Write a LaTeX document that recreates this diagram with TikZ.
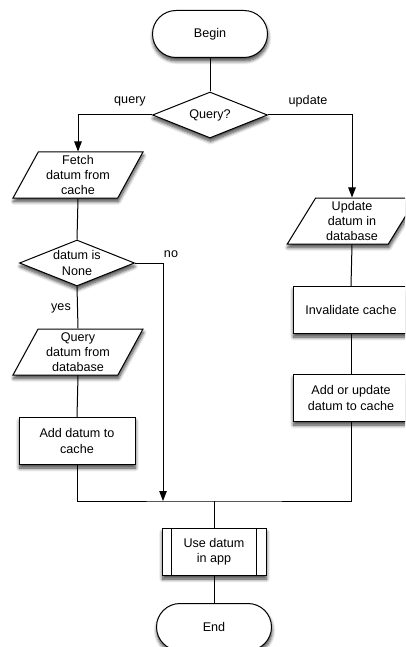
\documentclass[tikz,border=0pt]{standalone}
\usepackage{fontspec}
\setmainfont{Liberation Sans}
\usetikzlibrary{shapes.geometric,shapes.misc,arrows.meta,shadows.blur}
\begin{document}
\begin{tikzpicture}[x=1pt,y=-1pt,
  every node/.style={font=\fontsize{12.6}{15.2}\selectfont, align=center},
  shade/.style={blur shadow={shadow xshift=0.5pt, shadow yshift=-3.5pt, shadow blur steps=8, shadow blur radius=3.5pt, shadow opacity=75}},
  base/.style={draw, line width=1pt, fill=white, inner sep=0pt, shade},
  terminal/.style={base, rounded rectangle, minimum width=115pt, minimum height=47pt},
  decision/.style={base, diamond, aspect=2.5, inner sep=0pt, minimum width=115pt, minimum height=46pt},
  io/.style={base, trapezium, trapezium left angle=63, trapezium right angle=117,
    trapezium stretches=true, minimum width=130pt, minimum height=46pt},
  process/.style={base, rectangle, minimum width=116pt, minimum height=47pt},
  predef/.style={base, rectangle, minimum width=104pt, minimum height=47pt},
  link/.style={line width=1pt},
  arrow/.style={link, -{Triangle[length=10pt,width=7.5pt]}},
  tag/.style={font=\fontsize{12.6}{14}\selectfont}
]
\useasboundingbox (0,0) rectangle (405,647);
\begin{scope}
\clip (0,0) rectangle (405,647);

% shapes
\node[terminal] (begin) at (210,34) {Begin};
\node[decision] (q) at (210,115) {Query?};
\node[io] (fetch) at (78,175) {Fetch\\datum from\\cache};
\node[decision] (none) at (77,263) {datum is\\None};
\node[io] (qdb) at (78,352) {Query\\datum from\\database};
\node[process] (add) at (77,441) {Add datum to\\cache};
\node[io] (upd) at (352,221) {Update\\datum in\\database};
\node[process] (inv) at (351,310) {Invalidate cache};
\node[process] (aou) at (351,398) {Add or update\\datum to cache};
\node[predef] (use) at (214,552) {Use datum\\in app};
\node[terminal] (end) at (214,627) {End};
\draw[link] ([xshift=10pt]use.north west) -- ([xshift=10pt]use.south west);
\draw[link] ([xshift=-10pt]use.north east) -- ([xshift=-10pt]use.south east);

% merge points
\coordinate (j) at (214,501);
\coordinate (noend) at (163,501);

% connectors
\draw[link] (begin.south) -- (q.north);
\draw[arrow] (q.west) -| (fetch.north);
\draw[arrow] (q.east) -| (upd.north);
\draw[link] (fetch.south) -- (none.north);
\draw[link] (none.south) -- (qdb.north);
\draw[arrow] (none.east) -| (noend);
\draw[link] (qdb.south) -- (add.north);
\draw[link] (add.south) |- (j) -| (aou.south);
\draw[link] (upd.south) -- (inv.north);
\draw[link] (inv.south) -- (aou.north);
\draw[link] (j) -- (use.north);
\draw[link] (use.south) -- (end.north);

% branch labels
\node[tag] (lq) at (130,101) {query};
\node[tag] (lu) at (308,101) {update};
\node[tag] (lno) at (171,254) {no};
\node[tag] (lyes) at (61,308) {yes};
\end{scope}
\end{tikzpicture}
\end{document}
